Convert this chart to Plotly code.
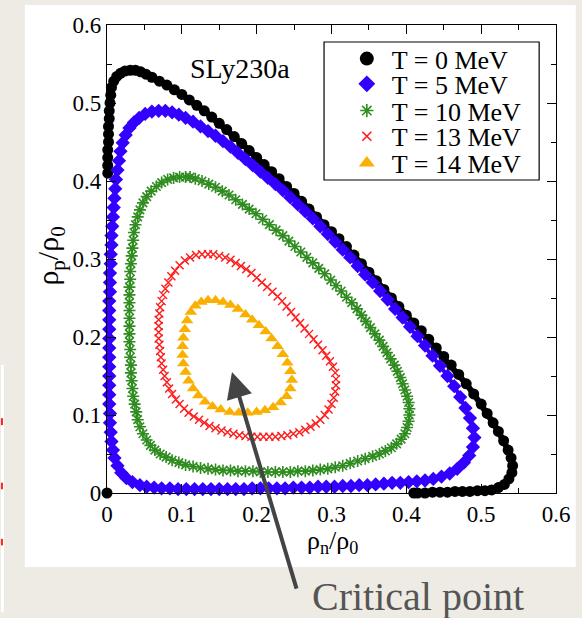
import plotly.graph_objects as go

# ---------------- data ----------------
labels = ["T = 0 MeV", "T = 5 MeV", "T = 10 MeV", "T = 13 MeV", "T = 14 MeV"]

t0_origin_x = [0.0]
t0_origin_y = [0.0]

t0_x = [0.001, 0.001, 0.001, 0.001, 0.002, 0.002, 0.002, 0.003, 0.003, 0.004, 0.005, 0.006, 0.009, 0.013,
        0.018, 0.024, 0.031, 0.038, 0.045, 0.052,
        0.06, 0.07, 0.08, 0.09, 0.10, 0.11, 0.12, 0.13, 0.14, 0.15, 0.16, 0.17, 0.18, 0.19, 0.20,
        0.21, 0.22, 0.23, 0.24, 0.25, 0.26, 0.27, 0.28, 0.29, 0.30, 0.31, 0.32, 0.33, 0.34, 0.35,
        0.36, 0.37, 0.38, 0.39, 0.40, 0.41, 0.42, 0.43, 0.44, 0.45, 0.46, 0.47, 0.48, 0.49, 0.50,
        0.508, 0.516, 0.523, 0.530, 0.536, 0.540, 0.542, 0.541, 0.537, 0.531, 0.523, 0.514,
        0.505, 0.495, 0.485, 0.475, 0.465, 0.455, 0.445, 0.435, 0.425, 0.415, 0.41]
t0_y = [0.410, 0.420, 0.430, 0.440, 0.450, 0.460, 0.470, 0.480, 0.490, 0.500, 0.510, 0.520, 0.528, 0.534,
        0.538, 0.541, 0.542, 0.542, 0.540, 0.537,
        0.533, 0.528, 0.523, 0.517, 0.511, 0.504, 0.497, 0.490, 0.482, 0.474, 0.466, 0.457, 0.448, 0.439, 0.430,
        0.421, 0.412, 0.403, 0.393, 0.384, 0.374, 0.364, 0.354, 0.344, 0.335, 0.326, 0.316, 0.305, 0.294, 0.283,
        0.272, 0.261, 0.250, 0.239, 0.228, 0.218, 0.208, 0.197, 0.186, 0.175, 0.164, 0.152, 0.140, 0.127, 0.114,
        0.102, 0.090, 0.079, 0.067, 0.055, 0.045, 0.035, 0.026, 0.018, 0.011, 0.007, 0.004,
        0.003, 0.003, 0.002, 0.002, 0.002, 0.001, 0.001, 0.001, 0.0, 0.0, 0.0]

t5_x = [0.044, 0.034, 0.026, 0.019, 0.014, 0.010, 0.008, 0.006, 0.005,
        0.004, 0.004, 0.003, 0.003, 0.003, 0.003, 0.003, 0.003, 0.003, 0.003, 0.003, 0.003, 0.003, 0.003,
        0.004, 0.004, 0.004, 0.005, 0.005, 0.006, 0.006, 0.007, 0.008, 0.009, 0.010, 0.011, 0.012, 0.014,
        0.016, 0.018, 0.021, 0.025, 0.030, 0.036, 0.043, 0.051, 0.060, 0.069, 0.078, 0.087, 0.096,
        0.105, 0.115, 0.125, 0.135, 0.145, 0.155, 0.165, 0.175, 0.185, 0.195, 0.205, 0.215, 0.225, 0.235,
        0.245, 0.255, 0.265, 0.275, 0.285, 0.295, 0.305, 0.315, 0.325, 0.335, 0.345, 0.355, 0.365, 0.375,
        0.385, 0.395, 0.405, 0.415, 0.425, 0.435, 0.445, 0.455, 0.464, 0.472, 0.479, 0.485, 0.489, 0.491,
        0.489, 0.484, 0.477, 0.468, 0.458, 0.447, 0.436, 0.425,
        0.414, 0.403, 0.392, 0.381, 0.370, 0.359, 0.348, 0.337, 0.326, 0.315, 0.304, 0.293, 0.282, 0.271,
        0.260, 0.249, 0.238, 0.227, 0.216, 0.205, 0.194, 0.183, 0.172, 0.161, 0.150, 0.139, 0.128, 0.117,
        0.106, 0.095, 0.084, 0.073, 0.063, 0.053]
t5_y = [0.010, 0.014, 0.019, 0.026, 0.035, 0.045, 0.055, 0.066, 0.078,
        0.090, 0.102, 0.114, 0.126, 0.138, 0.150, 0.162, 0.174, 0.186, 0.198, 0.210, 0.222, 0.234, 0.246,
        0.258, 0.270, 0.282, 0.294, 0.306, 0.318, 0.330, 0.342, 0.354, 0.366, 0.378, 0.390, 0.402, 0.414,
        0.426, 0.438, 0.449, 0.459, 0.468, 0.475, 0.481, 0.486, 0.489, 0.490, 0.490, 0.488, 0.485,
        0.481, 0.476, 0.470, 0.464, 0.458, 0.451, 0.444, 0.436, 0.428, 0.420, 0.412, 0.404, 0.396, 0.388,
        0.379, 0.370, 0.361, 0.352, 0.342, 0.332, 0.322, 0.312, 0.302, 0.291, 0.280, 0.270, 0.259, 0.248,
        0.236, 0.225, 0.213, 0.201, 0.189, 0.176, 0.163, 0.150, 0.137, 0.123, 0.109, 0.096, 0.083, 0.071,
        0.059, 0.048, 0.039, 0.031, 0.025, 0.021, 0.018, 0.016,
        0.015, 0.014, 0.013, 0.013, 0.012, 0.011, 0.010, 0.010, 0.009, 0.009, 0.008, 0.008, 0.008, 0.007,
        0.007, 0.007, 0.006, 0.006, 0.006, 0.006, 0.006, 0.005, 0.005, 0.005, 0.005, 0.005, 0.005, 0.005,
        0.005, 0.005, 0.006, 0.006, 0.007, 0.008]

t10_x = [0.105, 0.097, 0.089, 0.081, 0.073, 0.066, 0.059, 0.053, 0.048, 0.044, 0.041, 0.038, 0.036, 0.035,
         0.034, 0.033, 0.032, 0.031, 0.031, 0.030, 0.030, 0.030, 0.030, 0.030, 0.030, 0.030, 0.030, 0.031,
         0.031, 0.032, 0.032, 0.033, 0.034, 0.035, 0.037, 0.039, 0.041, 0.044, 0.048, 0.053, 0.058, 0.064,
         0.071, 0.079, 0.087, 0.096, 0.105, 0.115, 0.125, 0.135, 0.145, 0.155, 0.165, 0.175, 0.185, 0.195,
         0.205, 0.215, 0.225, 0.235, 0.245, 0.255, 0.265, 0.275, 0.285, 0.295, 0.305, 0.315, 0.325, 0.335,
         0.345, 0.355, 0.364, 0.372, 0.380, 0.387, 0.393, 0.398, 0.401, 0.403, 0.404, 0.404, 0.403, 0.401,
         0.398, 0.395, 0.392, 0.388, 0.384, 0.379, 0.374, 0.369, 0.364, 0.358, 0.352, 0.346, 0.340, 0.334,
         0.327, 0.320, 0.313, 0.306, 0.299, 0.291, 0.283, 0.275, 0.267, 0.259, 0.251, 0.243, 0.235, 0.226,
         0.217, 0.208, 0.199, 0.190, 0.181, 0.172, 0.163, 0.154, 0.145, 0.136, 0.127, 0.118, 0.111]
t10_y = [0.405, 0.405, 0.404, 0.402, 0.398, 0.393, 0.387, 0.380, 0.372, 0.363, 0.354, 0.344, 0.334, 0.324,
         0.314, 0.304, 0.294, 0.284, 0.274, 0.264, 0.254, 0.244, 0.234, 0.224, 0.214, 0.204, 0.194, 0.184,
         0.174, 0.164, 0.154, 0.144, 0.134, 0.124, 0.114, 0.104, 0.094, 0.085, 0.076, 0.068, 0.061, 0.055,
         0.050, 0.046, 0.042, 0.039, 0.036, 0.034, 0.032, 0.031, 0.030, 0.029, 0.029, 0.028, 0.028, 0.028,
         0.027, 0.027, 0.027, 0.027, 0.027, 0.028, 0.028, 0.029, 0.030, 0.031, 0.033, 0.035, 0.038, 0.041,
         0.044, 0.047, 0.050, 0.054, 0.058, 0.063, 0.069, 0.076, 0.084, 0.092, 0.100, 0.108, 0.116, 0.124,
         0.132, 0.140, 0.148, 0.156, 0.164, 0.172, 0.180, 0.188, 0.196, 0.204, 0.212, 0.220, 0.228, 0.236,
         0.244, 0.251, 0.259, 0.266, 0.273, 0.281, 0.288, 0.295, 0.302, 0.309, 0.316, 0.323, 0.330, 0.337,
         0.344, 0.351, 0.358, 0.364, 0.370, 0.376, 0.382, 0.387, 0.392, 0.396, 0.400, 0.403, 0.405]

t13_x = [0.135, 0.127, 0.119, 0.111, 0.104, 0.097, 0.091, 0.086, 0.082, 0.078, 0.075, 0.073, 0.071, 0.070,
         0.069, 0.069, 0.069, 0.069, 0.070, 0.071, 0.072, 0.073, 0.075, 0.077, 0.080, 0.083, 0.087, 0.092,
         0.097, 0.103, 0.109, 0.116, 0.123, 0.130, 0.137, 0.145, 0.153, 0.161, 0.169, 0.177, 0.185, 0.193,
         0.201, 0.209, 0.217, 0.225, 0.233, 0.241, 0.249, 0.257, 0.265, 0.272, 0.279, 0.285, 0.291, 0.296,
         0.300, 0.303, 0.305, 0.306, 0.306, 0.305, 0.302, 0.298, 0.293, 0.288, 0.282, 0.276, 0.270, 0.264,
         0.258, 0.252, 0.246, 0.240, 0.234, 0.228, 0.221, 0.214, 0.207, 0.200, 0.193, 0.186, 0.179, 0.172,
         0.165, 0.158, 0.150, 0.142]
t13_y = [0.306, 0.306, 0.305, 0.302, 0.298, 0.292, 0.285, 0.278, 0.270, 0.262, 0.254, 0.246, 0.238, 0.230,
         0.222, 0.214, 0.206, 0.198, 0.190, 0.182, 0.174, 0.166, 0.158, 0.150, 0.142, 0.134, 0.127, 0.120,
         0.114, 0.108, 0.103, 0.098, 0.094, 0.090, 0.086, 0.083, 0.080, 0.078, 0.076, 0.074, 0.073, 0.072,
         0.072, 0.072, 0.072, 0.072, 0.073, 0.074, 0.076, 0.078, 0.081, 0.085, 0.089, 0.094, 0.100, 0.107,
         0.114, 0.122, 0.130, 0.138, 0.146, 0.154, 0.162, 0.169, 0.176, 0.183, 0.190, 0.197, 0.204, 0.211,
         0.218, 0.225, 0.232, 0.239, 0.246, 0.252, 0.258, 0.264, 0.270, 0.276, 0.282, 0.287, 0.291, 0.295,
         0.299, 0.302, 0.304, 0.306]

t14_x = [0.112, 0.118, 0.126, 0.135, 0.145, 0.155, 0.165, 0.175, 0.185, 0.194, 0.203, 0.212, 0.220, 0.228,
         0.235, 0.241, 0.245, 0.247, 0.245, 0.240, 0.232, 0.222, 0.211, 0.200, 0.188, 0.176, 0.164, 0.152,
         0.141, 0.131, 0.122, 0.115, 0.109, 0.105, 0.102, 0.101, 0.101, 0.102, 0.104, 0.107]
t14_y = [0.232, 0.240, 0.245, 0.247, 0.247, 0.245, 0.241, 0.236, 0.229, 0.222, 0.215, 0.207, 0.198, 0.188,
         0.178, 0.167, 0.156, 0.145, 0.134, 0.124, 0.116, 0.110, 0.106, 0.104, 0.103, 0.103, 0.104, 0.107,
         0.111, 0.117, 0.125, 0.134, 0.144, 0.155, 0.166, 0.177, 0.188, 0.199, 0.210, 0.221]

tick_vals = [0, 0.1, 0.2, 0.3, 0.4, 0.5, 0.6]
tick_text = ["0", "0.1", "0.2", "0.3", "0.4", "0.5", "0.6"]

# ---------------- styles ----------------
SERIF = "Liberation Serif"
BLUE = "#3300ff"
GREEN = "#2f8c1f"
RED = "#ff1a1a"
ORANGE = "#f9b000"

fig = go.Figure()

# T = 0 MeV: isolated point at origin + main curve
fig.add_trace(go.Scatter(x=t0_origin_x, y=t0_origin_y, mode="markers",
                         marker=dict(symbol="circle", size=11, color="black"),
                         showlegend=False, cliponaxis=False, hoverinfo="skip"))
fig.add_trace(go.Scatter(x=t0_x, y=t0_y, mode="lines+markers",
                         line=dict(color="black", width=6),
                         marker=dict(symbol="circle", size=11, color="black"),
                         showlegend=False, cliponaxis=False, hoverinfo="skip"))
fig.add_trace(go.Scatter(x=t5_x, y=t5_y, mode="lines+markers",
                         line=dict(color=BLUE, width=4),
                         marker=dict(symbol="diamond", size=11, color=BLUE),
                         showlegend=False, cliponaxis=False, hoverinfo="skip"))
fig.add_trace(go.Scatter(x=t10_x, y=t10_y, mode="markers",
                         marker=dict(symbol="asterisk-open", size=10, color=GREEN,
                                     line=dict(color=GREEN, width=1.6)),
                         showlegend=False, cliponaxis=False, hoverinfo="skip"))
fig.add_trace(go.Scatter(x=t13_x, y=t13_y, mode="markers",
                         marker=dict(symbol="x-thin-open", size=8, color=RED,
                                     line=dict(color=RED, width=1.4)),
                         showlegend=False, cliponaxis=False, hoverinfo="skip"))
fig.add_trace(go.Scatter(x=t14_x, y=t14_y, mode="markers",
                         marker=dict(symbol="triangle-up", size=11, color=ORANGE),
                         showlegend=False, cliponaxis=False, hoverinfo="skip"))

# legend-only entries (one legend per row, to match the reference row spacing)
legend_markers = [
    dict(symbol="circle", size=14, color="black"),
    dict(symbol="diamond", size=13, color=BLUE),
    dict(symbol="asterisk-open", size=11, color=GREEN, line=dict(color=GREEN, width=1.6)),
    dict(symbol="x-thin-open", size=9, color=RED, line=dict(color=RED, width=1.6)),
    dict(symbol="triangle-up", size=14, color=ORANGE),
]
legend_ids = ["legend", "legend2", "legend3", "legend4", "legend5"]
for name, lmk, lid in zip(labels, legend_markers, legend_ids):
    fig.add_trace(go.Scatter(x=[None], y=[None], mode="markers", marker=lmk, name=name,
                             legend=lid, showlegend=True))

row_y = [0.928, 0.874, 0.817, 0.762, 0.705]
legend_layout = {}
for lid, yy in zip(legend_ids, row_y):
    legend_layout[lid] = dict(x=0.523, y=yy, xanchor="left", yanchor="middle",
                              bgcolor="rgba(0,0,0,0)", borderwidth=0, itemwidth=40,
                              font=dict(family=SERIF, size=26, color="black"),
                              itemclick=False, itemdoubleclick=False)

axis_common = dict(
    range=[0, 0.6], tickvals=tick_vals, ticktext=tick_text,
    showline=True, linecolor="black", linewidth=1.3, mirror="ticks",
    ticks="inside", ticklen=9, tickwidth=1.3, tickcolor="black",
    minor=dict(ticks="inside", ticklen=5, tickwidth=1.3, tickcolor="black", dtick=0.05, tick0=0),
    showgrid=False, zeroline=False,
    tickfont=dict(family=SERIF, size=23, color="black"),
)

fig.update_layout(
    width=582, height=618,
    margin=dict(l=107, r=22, t=25, b=125),
    paper_bgcolor="#eeebe5", plot_bgcolor="white",
    xaxis=dict(**axis_common),
    yaxis=dict(**axis_common),
    **legend_layout,
    shapes=[
        dict(type="rect", xref="paper", yref="paper", x0=-0.183, x1=1.044, y0=-0.158, y1=1.043,
             fillcolor="white", line=dict(width=0), layer="below"),
        dict(type="rect", xref="paper", yref="paper", x0=0.4834, x1=0.9625, y0=0.6688, y1=0.9637,
             fillcolor="rgba(0,0,0,0)", line=dict(color="black", width=1.2)),
        # fragment of neighbouring slide at the left edge
        dict(type="rect", xref="paper", yref="paper", x0=-0.2362, x1=-0.2296, y0=-0.254, y1=0.2735,
             fillcolor="white", line=dict(width=0), layer="below"),
        dict(type="rect", xref="paper", yref="paper", x0=-0.2362, x1=-0.2318, y0=0.145, y1=0.160,
             fillcolor="#ff2020", line=dict(width=0)),
        dict(type="rect", xref="paper", yref="paper", x0=-0.2362, x1=-0.2318, y0=0.008, y1=0.022,
             fillcolor="#ff2020", line=dict(width=0)),
        dict(type="rect", xref="paper", yref="paper", x0=-0.2362, x1=-0.2318, y0=-0.112, y1=-0.098,
             fillcolor="#ff2020", line=dict(width=0)),
    ],
    annotations=[
        dict(text="SLy230a", xref="paper", yref="paper", x=0.297, y=0.906,
             xanchor="center", yanchor="middle", showarrow=False,
             font=dict(family=SERIF, size=28, color="black")),
        dict(text="ρ<sub>p</sub>/ρ<sub>0</sub>", xref="paper", yref="paper", x=-0.126, y=0.506,
             xanchor="center", yanchor="middle", textangle=-90, showarrow=False,
             font=dict(family=SERIF, size=30, color="black")),
        dict(text="ρ<sub>n</sub>/ρ<sub>0</sub>", xref="paper", yref="paper", x=0.502, y=-0.105,
             xanchor="center", yanchor="middle", showarrow=False,
             font=dict(family=SERIF, size=26, color="black")),
        dict(text="", x=0.167, y=0.155, xref="x", yref="y", showarrow=True, ax=65, ay=218,
             arrowhead=2, arrowsize=1.3, arrowwidth=4, arrowcolor="#444444", standoff=0),
        dict(text="Critical point", xref="paper", yref="paper", x=0.693, y=-0.222,
             xanchor="center", yanchor="middle", showarrow=False,
             font=dict(family=SERIF, size=40, color="#555555")),
    ],
)

fig.write_html("out.html",
               config={"displayModeBar": False},
               post_script="document.body.style.margin='0';document.body.style.overflow='hidden';"
                           "document.body.style.background='#eeebe5';")
